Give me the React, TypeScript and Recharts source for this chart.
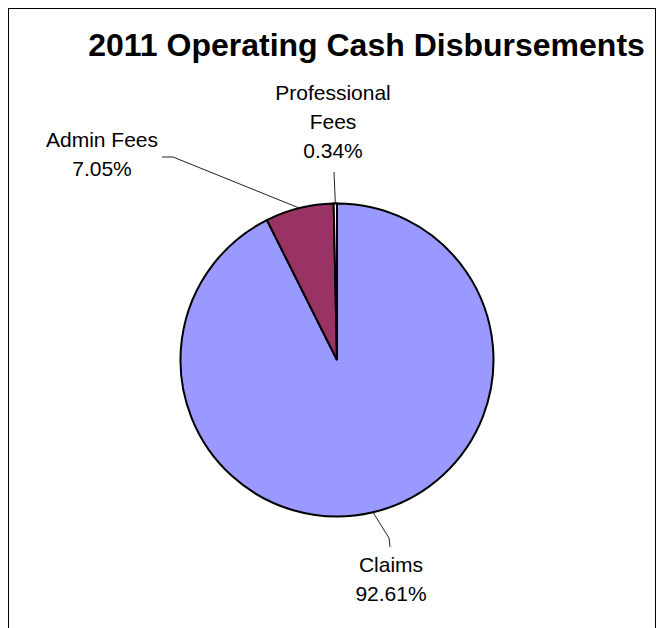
import React from "react";
import { PieChart, Pie, Cell } from "recharts";

// data
const CATEGORIES = ["Claims", "Admin Fees", "Professional Fees"];
const PERCENTS = [92.61, 7.05, 0.34];
const COLORS = ["#9999FF", "#993366", "#FFFFCC"];
const TITLE = "2011 Operating Cash Disbursements";

// label placement, relative to the pie centre (Excel-like leader lines)
const LABEL_LAYOUT = [
  { elbow: [52, 178], end: [53, 187], tx: 54, ty: 212, wrap: false },
  { elbow: [-164, -203], end: [-175, -203], tx: -235, ty: -213, wrap: false },
  { elbow: null, end: [-3, -188], tx: -4, ty: -260, wrap: true },
];

const W = 646;
const H = 640;
const CX = 328;
const CY = 351;
const R = 156.5;
const FONT = "'Liberation Sans', Arial, sans-serif";
const RAD = Math.PI / 180;

const data = CATEGORIES.map((name, i) => ({ name, value: PERCENTS[i] }));

function renderLabel(props: any) {
  const { cx, cy, midAngle, outerRadius, index, name, value } = props;
  const lay = LABEL_LAYOUT[index];
  const sx = cx + outerRadius * Math.cos(-midAngle * RAD);
  const sy = cy + outerRadius * Math.sin(-midAngle * RAD);
  const pts = [[sx, sy]];
  if (lay.elbow) pts.push([cx + lay.elbow[0], cy + lay.elbow[1]]);
  pts.push([cx + lay.end[0], cy + lay.end[1]]);
  const lines = (lay.wrap ? String(name).split(" ") : [String(name)]).concat(
    Number(value).toFixed(2) + "%"
  );
  return (
    <g key={"lbl" + index}>
      <polyline
        points={pts.map((p) => p.join(",")).join(" ")}
        fill="none"
        stroke="#222"
        strokeWidth={1}
      />
      <text
        x={cx + lay.tx}
        y={cy + lay.ty}
        textAnchor="middle"
        fontFamily={FONT}
        fontSize={21}
        fill="#000"
      >
        {lines.map((l, i) => (
          <tspan key={i} x={cx + lay.tx} dy={i === 0 ? 0 : 29}>
            {l}
          </tspan>
        ))}
      </text>
    </g>
  );
}

export default function App() {
  return (
    <div
      style={{
        position: "relative",
        width: W,
        height: H,
        border: "1px solid #000",
        background: "#fff",
      }}
    >
      <svg
        width={W}
        height={60}
        style={{ position: "absolute", left: 0, top: 0 }}
      >
        <text
          x={357.5}
          y={47}
          textAnchor="middle"
          fontFamily={FONT}
          fontWeight="bold"
          fontSize={32}
          fill="#000"
        >
          {TITLE}
        </text>
      </svg>
      <PieChart width={W} height={H} margin={{ top: 0, right: 0, bottom: 0, left: 0 }}>
        <Pie
          data={data}
          dataKey="value"
          nameKey="name"
          cx={CX}
          cy={CY}
          outerRadius={R}
          startAngle={90}
          endAngle={-270}
          stroke="#000"
          strokeWidth={2}
          label={renderLabel}
          labelLine={false}
          isAnimationActive={false}
        >
          {data.map((d, i) => (
            <Cell key={d.name} fill={COLORS[i]} />
          ))}
        </Pie>
      </PieChart>
    </div>
  );
}
